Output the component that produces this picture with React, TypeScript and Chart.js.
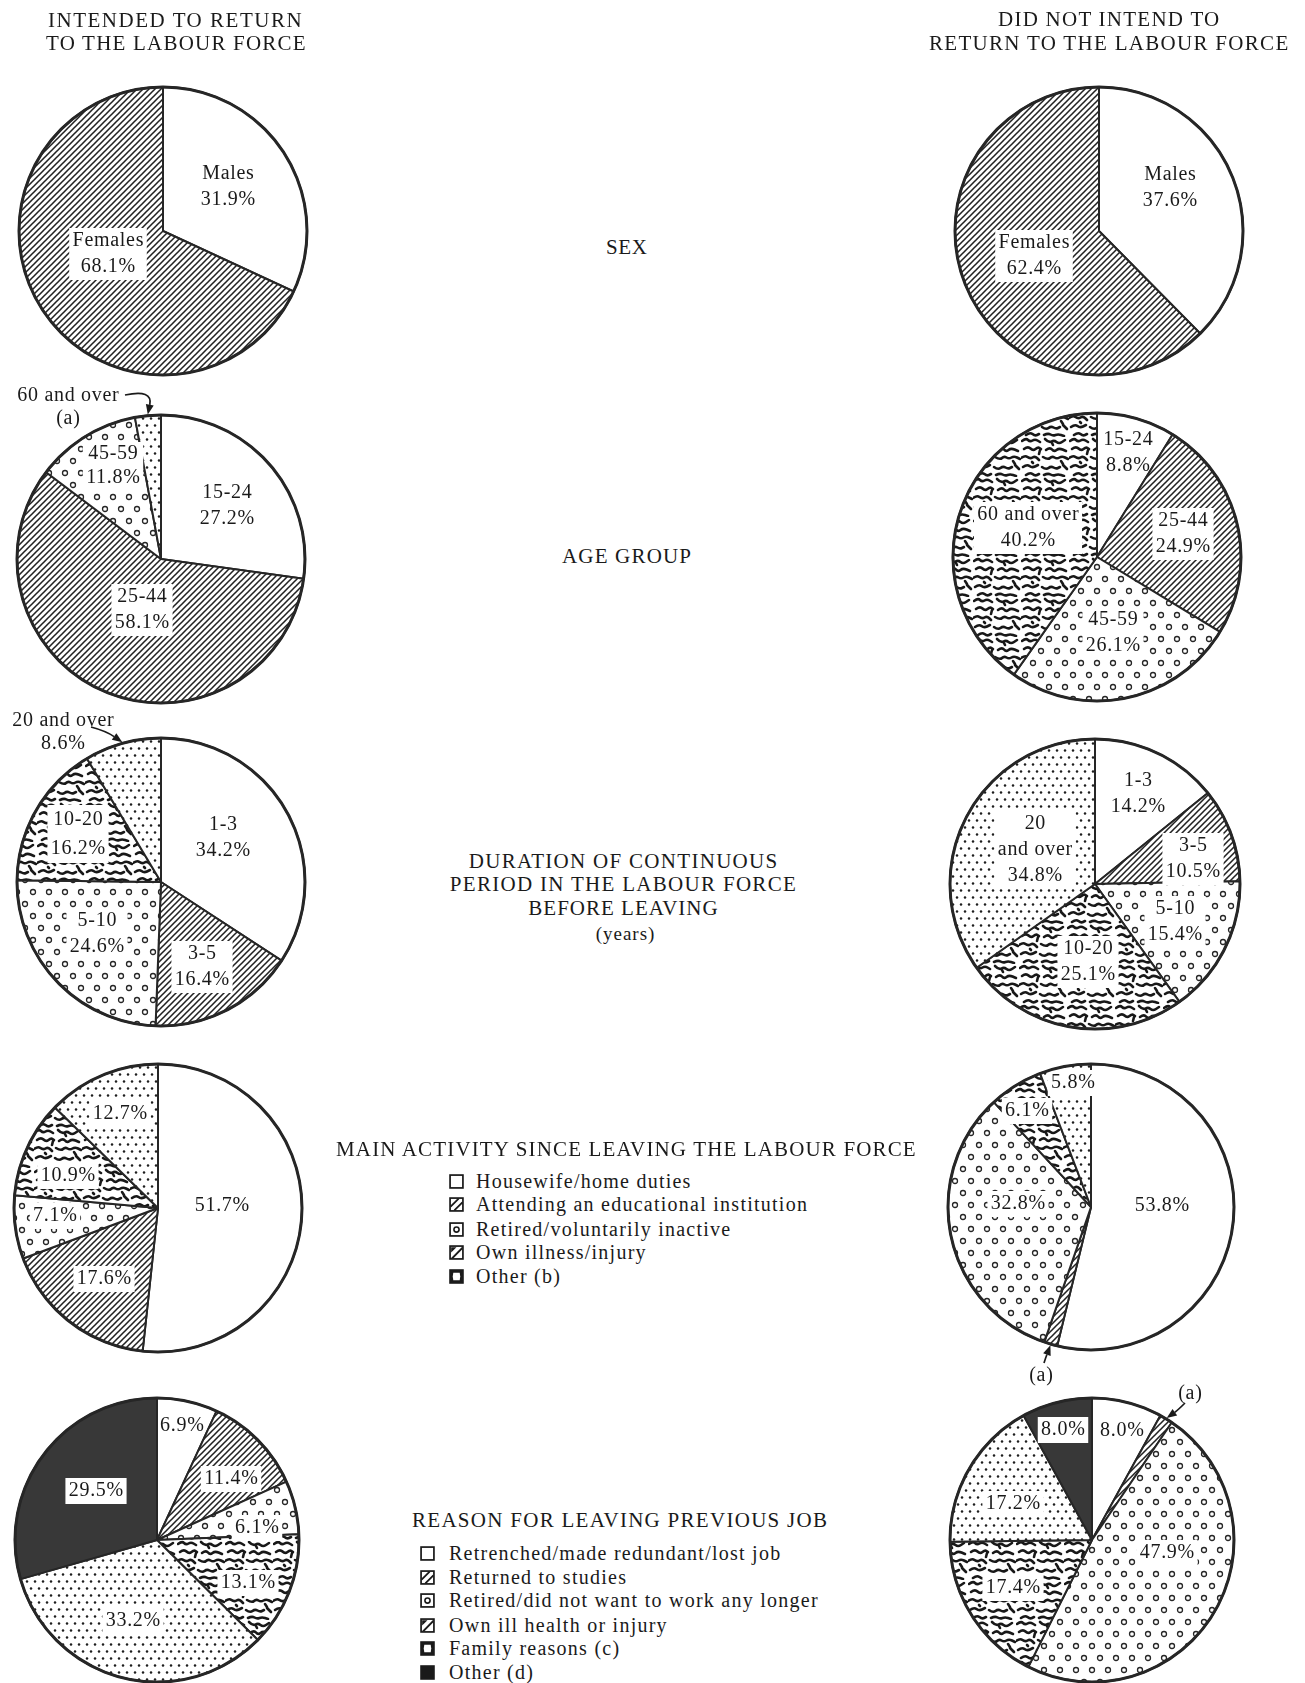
import React, { useEffect, useRef } from 'react';
import { Chart, registerables } from 'chart.js';
Chart.register(...registerables);

// ---------------- data ----------------
const SEX_CATEGORIES = ['Males', 'Females'];
const SEX_INTENDED = [31.9, 68.1];
const SEX_NOT_INTENDED = [37.6, 62.4];

const AGE_CATEGORIES = ['15-24', '25-44', '45-59', '60 and over'];
const AGE_INTENDED = [27.2, 58.1, 11.8, 2.9];
const AGE_NOT_INTENDED = [8.8, 24.9, 26.1, 40.2];

const DURATION_CATEGORIES = ['1-3', '3-5', '5-10', '10-20', '20 and over'];
const DURATION_INTENDED = [34.2, 16.4, 24.6, 16.2, 8.6];
const DURATION_NOT_INTENDED = [14.2, 10.5, 15.4, 25.1, 34.8];

const ACTIVITY_CATEGORIES = [
  'Housewife/home duties',
  'Attending an educational institution',
  'Retired/voluntarily inactive',
  'Own illness/injury',
  'Other (b)',
];
const ACTIVITY_INTENDED = [51.7, 17.6, 7.1, 10.9, 12.7];
const ACTIVITY_NOT_INTENDED = [53.8, 1.5, 32.8, 6.1, 5.8];

const REASON_CATEGORIES = [
  'Retrenched/made redundant/lost job',
  'Returned to studies',
  'Retired/did not want to work any longer',
  'Own ill health or injury',
  'Family reasons (c)',
  'Other (d)',
];
const REASON_INTENDED = [6.9, 11.4, 6.1, 13.1, 33.2, 29.5];
const REASON_NOT_INTENDED = [8.0, 1.5, 47.9, 17.4, 17.2, 8.0];

const HEADER_LEFT = ['INTENDED TO RETURN', 'TO THE LABOUR FORCE'];
const HEADER_RIGHT = ['DID NOT INTEND TO', 'RETURN TO THE LABOUR FORCE'];
const TITLE_SEX = 'SEX';
const TITLE_AGE = 'AGE GROUP';
const TITLE_DURATION = ['DURATION OF CONTINUOUS', 'PERIOD IN THE LABOUR FORCE', 'BEFORE LEAVING'];
const TITLE_DURATION_UNIT = '(years)';
const TITLE_ACTIVITY = 'MAIN ACTIVITY SINCE LEAVING THE LABOUR FORCE';
const TITLE_REASON = 'REASON FOR LEAVING PREVIOUS JOB';
const NOTE_A = '(a)';

// ---------------- styles ----------------
const SERIF = '"Liberation Serif", "Times New Roman", "DejaVu Serif", serif';
const TEXT = '#1a1a1a';
const BORDER = '#262626';
const LABEL_PX = 20;
const LABEL_LS = 0.7;
const LEGEND_PX = 20;
const LEGEND_LS = 1.25;
const TITLE_PX = 21;
const CW = 440;
const CH = 400;

type Fill = 'white' | 'hatch' | 'circles' | 'dots' | 'squiggle' | 'dark';
type Lab = { dx: number; dy: number; m: 'cp' | 'p' | 's'; box?: boolean; lh?: number } | null;
type Callout = { slice: number; m: 'ca' | 'cp' | 'a'; tx: number; ty: number; from: [number, number]; ctrl: [number, number] };
type PieSpec = {
  key: string;
  categories: string[];
  values: number[];
  fills: Fill[];
  cx: number;
  cy: number;
  r: number;
  labels: Lab[];
  callout?: Callout;
};

const PIES: PieSpec[] = [
  {
    key: 'sexI', categories: SEX_CATEGORIES, values: SEX_INTENDED, fills: ['white', 'hatch'],
    cx: 163, cy: 231, r: 144,
    labels: [{ dx: 65, dy: -45, m: 'cp' }, { dx: -55, dy: 22, m: 'cp', box: true }],
  },
  {
    key: 'sexN', categories: SEX_CATEGORIES, values: SEX_NOT_INTENDED, fills: ['white', 'hatch'],
    cx: 1099, cy: 231, r: 144,
    labels: [{ dx: 71, dy: -44, m: 'cp' }, { dx: -65, dy: 24, m: 'cp', box: true }],
  },
  {
    key: 'ageI', categories: AGE_CATEGORIES, values: AGE_INTENDED, fills: ['white', 'hatch', 'circles', 'dots'],
    cx: 161, cy: 559, r: 144,
    labels: [
      { dx: 66, dy: -54, m: 'cp' },
      { dx: -19, dy: 50, m: 'cp', box: true },
      { dx: -48, dy: -94, m: 'cp', box: true, lh: 24 },
      null,
    ],
    callout: { slice: 3, m: 'ca', tx: -93, ty: -153, from: [-36, -164], ctrl: [-8, -170] },
  },
  {
    key: 'ageN', categories: AGE_CATEGORIES, values: AGE_NOT_INTENDED, fills: ['white', 'hatch', 'circles', 'squiggle'],
    cx: 1097, cy: 557, r: 144,
    labels: [
      { dx: 31, dy: -105, m: 'cp' },
      { dx: 86, dy: -24, m: 'cp', box: true },
      { dx: 16, dy: 75, m: 'cp', box: true },
      { dx: -69, dy: -30, m: 'cp', box: true },
    ],
  },
  {
    key: 'durI', categories: DURATION_CATEGORIES, values: DURATION_INTENDED, fills: ['white', 'hatch', 'circles', 'squiggle', 'dots'],
    cx: 161, cy: 882, r: 144,
    labels: [
      { dx: 62, dy: -45, m: 'cp' },
      { dx: 41, dy: 84, m: 'cp', box: true },
      { dx: -64, dy: 51, m: 'cp', box: true },
      { dx: -83, dy: -49, m: 'cp', box: true, lh: 29 },
      null,
    ],
    callout: { slice: 4, m: 'cp', tx: -98, ty: -151, from: [-70, -155], ctrl: [-55, -151] },
  },
  {
    key: 'durN', categories: DURATION_CATEGORIES, values: DURATION_NOT_INTENDED, fills: ['white', 'hatch', 'circles', 'squiggle', 'dots'],
    cx: 1095, cy: 884, r: 145,
    labels: [
      { dx: 43, dy: -91, m: 'cp' },
      { dx: 98, dy: -26, m: 'cp', box: true },
      { dx: 80, dy: 37, m: 'cp', box: true },
      { dx: -7, dy: 77, m: 'cp', box: true },
      { dx: -60, dy: -35, m: 's', box: true },
    ],
  },
  {
    key: 'actI', categories: ACTIVITY_CATEGORIES, values: ACTIVITY_INTENDED, fills: ['white', 'hatch', 'circles', 'squiggle', 'dots'],
    cx: 158, cy: 1208, r: 144,
    labels: [
      { dx: 64, dy: -3, m: 'p' },
      { dx: -54, dy: 70, m: 'p', box: true },
      { dx: -103, dy: 7, m: 'p', box: true },
      { dx: -90, dy: -33, m: 'p', box: true },
      { dx: -38, dy: -95, m: 'p', box: true },
    ],
  },
  {
    key: 'actN', categories: ACTIVITY_CATEGORIES, values: ACTIVITY_NOT_INTENDED, fills: ['white', 'hatch', 'circles', 'squiggle', 'dots'],
    cx: 1091, cy: 1207, r: 143,
    labels: [
      { dx: 71, dy: -2, m: 'p' },
      null,
      { dx: -73, dy: -4, m: 'p', box: true },
      { dx: -64, dy: -97, m: 'p', box: true },
      { dx: -18, dy: -125, m: 'p', box: true },
    ],
    callout: { slice: 1, m: 'a', tx: -50, ty: 168, from: [-47, 156], ctrl: [-45, 150] },
  },
  {
    key: 'reaI', categories: REASON_CATEGORIES, values: REASON_INTENDED, fills: ['white', 'hatch', 'circles', 'squiggle', 'dots', 'dark'],
    cx: 157, cy: 1540, r: 142,
    labels: [
      { dx: 25, dy: -115, m: 'p' },
      { dx: 74, dy: -62, m: 'p', box: true },
      { dx: 100, dy: -13, m: 'p', box: true },
      { dx: 91, dy: 42, m: 'p', box: true },
      { dx: -24, dy: 80, m: 'p', box: true },
      { dx: -61, dy: -50, m: 'p', box: true },
    ],
  },
  {
    key: 'reaN', categories: REASON_CATEGORIES, values: REASON_NOT_INTENDED, fills: ['white', 'hatch', 'circles', 'squiggle', 'dots', 'dark'],
    cx: 1092, cy: 1540, r: 142,
    labels: [
      { dx: 30, dy: -110, m: 'p' },
      null,
      { dx: 75, dy: 12, m: 'p', box: true },
      { dx: -79, dy: 47, m: 'p', box: true },
      { dx: -79, dy: -37, m: 'p', box: true },
      { dx: -29, dy: -111, m: 'p', box: true },
    ],
    callout: { slice: 1, m: 'a', tx: 98, ty: -147, from: [93, -137], ctrl: [86, -130] },
  },
];

// ---------------- patterns ----------------
const WORMS: number[][][] = [
  [[1, 4], [5, 1], [9, 5], [14, 2], [19, 5]],
  [[24, 2], [28, 6], [33, 3], [38, 7], [44, 3]],
  [[3, 12], [7, 9], [12, 14], [17, 10], [20, 12]],
  [[25, 13], [29, 10], [33, 15], [38, 11], [45, 14]],
  [[0, 21], [4, 18], [9, 22], [14, 19], [18, 23]],
  [[22, 20], [27, 23], [31, 19], [36, 22], [41, 19], [47, 22]],
  [[2, 30], [6, 27], [11, 31], [17, 28]],
  [[21, 30], [25, 33], [30, 29], [35, 32], [39, 30]],
  [[42, 28], [46, 32]],
  [[5, 38], [9, 35], [14, 39], [18, 37]],
  [[23, 38], [27, 36], [32, 39], [37, 37], [43, 39]],
  [[19, 13], [18, 17]],
  [[40, 24], [42, 27]],
  [[11, 25], [12, 26]],
  [[31, 6], [32, 8]],
];

function tile(w: number, h: number, draw: (g: CanvasRenderingContext2D) => void) {
  const c = document.createElement('canvas');
  c.width = w;
  c.height = h;
  const g = c.getContext('2d')!;
  g.fillStyle = '#ffffff';
  g.fillRect(0, 0, w, h);
  draw(g);
  return c;
}

function makeFill(ctx: CanvasRenderingContext2D, f: Fill): string | CanvasPattern {
  if (f === 'white') return '#ffffff';
  if (f === 'dark') return '#383838';
  let t: HTMLCanvasElement;
  if (f === 'hatch') {
    const s = 6;
    t = tile(s, s, (g) => {
      g.strokeStyle = '#222';
      g.lineWidth = 1.55;
      g.beginPath();
      g.moveTo(-1, s + 1); g.lineTo(s + 1, -1);
      g.moveTo(-1, 1); g.lineTo(1, -1);
      g.moveTo(s - 1, s + 1); g.lineTo(s + 1, s - 1);
      g.stroke();
    });
  } else if (f === 'circles') {
    t = tile(16, 24, (g) => {
      g.strokeStyle = '#262626';
      g.lineWidth = 1.3;
      [[4, 6], [12, 18]].forEach(([x, y]) => {
        g.beginPath();
        g.arc(x, y, 2.5, 0, Math.PI * 2);
        g.stroke();
      });
    });
  } else if (f === 'dots') {
    t = tile(8, 14, (g) => {
      g.fillStyle = '#1e1e1e';
      [[2, 3.5], [6, 10.5]].forEach(([x, y]) => {
        g.beginPath();
        g.arc(x, y, 1.25, 0, Math.PI * 2);
        g.fill();
      });
    });
  } else {
    t = tile(48, 40, (g) => {
      g.strokeStyle = '#181818';
      g.lineWidth = 2.6;
      g.lineCap = 'round';
      g.lineJoin = 'round';
      WORMS.forEach((pts) => {
        g.beginPath();
        g.moveTo(pts[0][0], pts[0][1]);
        for (let i = 1; i < pts.length - 1; i++) {
          const mx = (pts[i][0] + pts[i + 1][0]) / 2;
          const my = (pts[i][1] + pts[i + 1][1]) / 2;
          g.quadraticCurveTo(pts[i][0], pts[i][1], mx, my);
        }
        const last = pts[pts.length - 1];
        g.lineTo(last[0], last[1]);
        g.stroke();
      });
    });
  }
  return ctx.createPattern(t, 'repeat')!;
}

function pct(v: number) {
  return `${v.toFixed(1)}%`;
}

function labelLines(p: PieSpec, i: number, m: string): string[] {
  const cat = p.categories[i];
  const v = pct(p.values[i]);
  if (m === 'p') return [v];
  if (m === 's') {
    const k = cat.indexOf(' ');
    return [cat.slice(0, k), cat.slice(k + 1), v];
  }
  if (m === 'ca') return [cat, NOTE_A];
  if (m === 'a') return [NOTE_A];
  return [cat, v];
}

function annotPlugin(p: PieSpec) {
  return {
    id: 'annot_' + p.key,
    afterDatasetsDraw(chart: any) {
      const ctx: CanvasRenderingContext2D = chart.ctx;
      const arcs: any[] = chart.getDatasetMeta(0).data;
      const cx = arcs[0].x;
      const cy = arcs[0].y;
      const R = arcs[0].outerRadius;
      ctx.save();
      ctx.font = `${LABEL_PX}px ${SERIF}`;
      (ctx as any).letterSpacing = `${LABEL_LS}px`;
      ctx.textAlign = 'center';
      ctx.textBaseline = 'middle';
      const drawLines = (lines: string[], x: number, y: number, lh: number, box: boolean) => {
        const h = lines.length * lh;
        if (box) {
          const w = Math.max(...lines.map((l) => ctx.measureText(l).width)) + 6;
          ctx.fillStyle = '#ffffff';
          ctx.fillRect(x - w / 2, y - h / 2 + 1, w, h);
        }
        ctx.fillStyle = TEXT;
        lines.forEach((l, k) => ctx.fillText(l, x + LABEL_LS / 2, y - h / 2 + lh * (k + 0.5) + 1));
      };
      p.labels.forEach((lab, i) => {
        if (!lab) return;
        drawLines(labelLines(p, i, lab.m), cx + lab.dx, cy + lab.dy, lab.lh ?? 26, !!lab.box);
      });
      // outer rim
      ctx.beginPath();
      ctx.arc(cx, cy, R, 0, Math.PI * 2);
      ctx.lineWidth = 3;
      ctx.strokeStyle = BORDER;
      ctx.stroke();
      // callout
      const co = p.callout;
      if (co) {
        const a = arcs[co.slice];
        const mid = (a.startAngle + a.endAngle) / 2;
        const tx = cx + Math.cos(mid) * (R + 1);
        const ty = cy + Math.sin(mid) * (R + 1);
        const fx = cx + co.from[0];
        const fy = cy + co.from[1];
        const qx = cx + co.ctrl[0];
        const qy = cy + co.ctrl[1];
        const ang = Math.atan2(ty - qy, tx - qx);
        const bx = tx - Math.cos(ang) * 10;
        const by = ty - Math.sin(ang) * 10;
        ctx.strokeStyle = TEXT;
        ctx.lineWidth = 1.7;
        ctx.beginPath();
        ctx.moveTo(fx, fy);
        ctx.quadraticCurveTo(qx, qy, bx, by);
        ctx.stroke();
        ctx.fillStyle = TEXT;
        ctx.beginPath();
        ctx.moveTo(tx, ty);
        ctx.lineTo(bx - Math.sin(ang) * 4, by + Math.cos(ang) * 4);
        ctx.lineTo(bx + Math.sin(ang) * 4, by - Math.cos(ang) * 4);
        ctx.closePath();
        ctx.fill();
        drawLines(labelLines(p, co.slice, co.m), cx + co.tx, cy + co.ty, 23, false);
      }
      ctx.restore();
    },
  };
}

// ---------------- text helpers ----------------
let measureCtx: CanvasRenderingContext2D | null = null;
function measure(text: string, size: number) {
  if (!measureCtx && typeof document !== 'undefined') {
    measureCtx = document.createElement('canvas').getContext('2d');
  }
  if (!measureCtx) return text.length * size * 0.6;
  measureCtx.font = `${size}px ${SERIF}`;
  return measureCtx.measureText(text).width;
}

function FitText({ text, x1, x2, y, size }: { text: string; x1: number; x2: number; y: number; size: number }) {
  const w = measure(text, size);
  const ls = (x2 - x1 - w) / Math.max(1, text.length - 1);
  const lh = Math.round(size * 1.4);
  return (
    <div
      style={{
        position: 'absolute', left: x1, top: y - lh / 2, fontSize: size, lineHeight: `${lh}px`,
        letterSpacing: `${ls}px`, whiteSpace: 'nowrap', fontFamily: SERIF, color: TEXT,
      }}
    >
      {text}
    </div>
  );
}

function CenterText({ text, cx, y, size, ls }: { text: string; cx: number; y: number; size: number; ls: number }) {
  const w = measure(text, size) + ls * (text.length - 1);
  const lh = Math.round(size * 1.4);
  return (
    <div
      style={{
        position: 'absolute', left: cx - w / 2, top: y - lh / 2, fontSize: size, lineHeight: `${lh}px`,
        letterSpacing: `${ls}px`, whiteSpace: 'nowrap', fontFamily: SERIF, color: TEXT,
      }}
    >
      {text}
    </div>
  );
}

function Icon({ kind }: { kind: Fill }) {
  const st = '#1a1a1a';
  return (
    <svg width={15} height={15} viewBox="0 0 14 14" style={{ display: 'block' }}>
      <rect x={1} y={1} width={12} height={12} fill={kind === 'dark' || kind === 'dots' ? st : '#fff'} stroke={st} strokeWidth={1.6} />
      {kind === 'hatch' && <path d="M1.5 9 L9 1.5 M5 12.5 L12.5 5" stroke={st} strokeWidth={1.7} />}
      {kind === 'circles' && <circle cx={7} cy={7} r={2.4} fill="none" stroke={st} strokeWidth={1.5} />}
      {kind === 'squiggle' && <path d="M1.5 12.5 L12.5 1.5 L12.5 4 L4 12.5 Z M2 2 L7 2 L2 7 Z" fill={st} />}
      {kind === 'dots' && <path d="M4 3.5 L10 3.5 L10.5 7 L10 10.5 L4 10.5 L3.5 7 Z" fill="#fff" />}
    </svg>
  );
}

function Legend({ items, fills, x, tx, ys }: { items: string[]; fills: Fill[]; x: number; tx: number; ys: number[] }) {
  return (
    <>
      {items.map((t, i) => (
        <React.Fragment key={t}>
          <div style={{ position: 'absolute', left: x, top: ys[i] - 7 }}>
            <Icon kind={fills[i]} />
          </div>
          <div
            style={{
              position: 'absolute', left: tx, top: ys[i] - 13, fontSize: LEGEND_PX, lineHeight: '26px',
              letterSpacing: `${LEGEND_LS}px`, whiteSpace: 'nowrap', fontFamily: SERIF, color: TEXT,
            }}
          >
            {t}
          </div>
        </React.Fragment>
      ))}
    </>
  );
}

export default function App() {
  const refs = useRef<(HTMLCanvasElement | null)[]>([]);

  useEffect(() => {
    const charts = PIES.map((p, i) => {
      const cv = refs.current[i]!;
      const ctx = cv.getContext('2d')!;
      const bg = p.fills.map((f) => makeFill(ctx, f));
      return new Chart(cv, {
        type: 'pie',
        data: {
          labels: p.categories,
          datasets: [
            {
              data: p.values,
              backgroundColor: bg as any,
              borderColor: BORDER,
              borderWidth: 2,
              radius: p.r,
            } as any,
          ],
        },
        options: {
          responsive: false,
          maintainAspectRatio: false,
          animation: false,
          events: [],
          layout: { padding: 0 },
          plugins: { legend: { display: false }, tooltip: { enabled: false } },
        },
        plugins: [annotPlugin(p) as any],
      });
    });
    return () => charts.forEach((c) => c.destroy());
  }, []);

  return (
    <div
      style={{
        position: 'absolute', left: 0, top: 0, width: 1305, height: 1683, overflow: 'hidden',
        background: '#ffffff', fontFamily: SERIF,
      }}
    >
      {PIES.map((p, i) => (
        <canvas
          key={p.key}
          ref={(el) => { refs.current[i] = el; }}
          width={CW}
          height={CH}
          style={{ position: 'absolute', left: p.cx - CW / 2, top: p.cy - CH / 2, width: CW, height: CH }}
        />
      ))}

      <FitText text={HEADER_LEFT[0]} x1={48} x2={302} y={20} size={TITLE_PX} />
      <FitText text={HEADER_LEFT[1]} x1={46} x2={306} y={43} size={TITLE_PX} />
      <FitText text={HEADER_RIGHT[0]} x1={998} x2={1220} y={19} size={TITLE_PX} />
      <FitText text={HEADER_RIGHT[1]} x1={929} x2={1289} y={43} size={TITLE_PX} />

      <FitText text={TITLE_SEX} x1={606} x2={647} y={247} size={TITLE_PX} />
      <FitText text={TITLE_AGE} x1={562} x2={691} y={556} size={TITLE_PX} />
      <CenterText text={TITLE_DURATION[0]} cx={623} y={861} size={TITLE_PX} ls={1.3} />
      <CenterText text={TITLE_DURATION[1]} cx={623} y={884} size={TITLE_PX} ls={1.3} />
      <CenterText text={TITLE_DURATION[2]} cx={623} y={908} size={TITLE_PX} ls={1.0} />
      <CenterText text={TITLE_DURATION_UNIT} cx={625} y={933} size={19} ls={1.0} />

      <FitText text={TITLE_ACTIVITY} x1={336} x2={918} y={1149} size={TITLE_PX} />
      <Legend
        items={ACTIVITY_CATEGORIES}
        fills={['white', 'hatch', 'circles', 'squiggle', 'dots']}
        x={449}
        tx={476}
        ys={[1181, 1204, 1229, 1252, 1276]}
      />

      <FitText text={TITLE_REASON} x1={412} x2={827} y={1520} size={TITLE_PX} />
      <Legend
        items={REASON_CATEGORIES}
        fills={['white', 'hatch', 'circles', 'squiggle', 'dots', 'dark']}
        x={420}
        tx={449}
        ys={[1553, 1577, 1600, 1625, 1648, 1672]}
      />
    </div>
  );
}
